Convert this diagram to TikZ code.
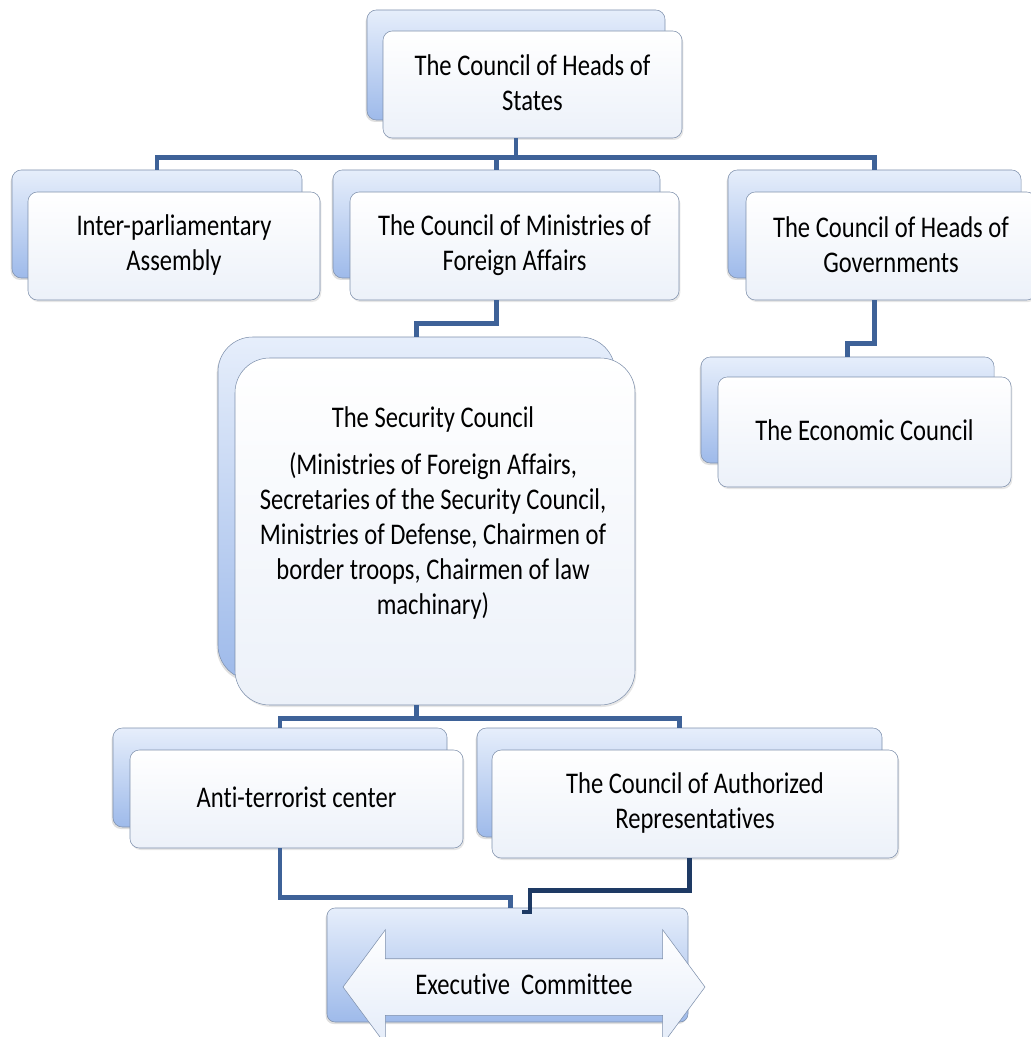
\documentclass[tikz,border=0pt]{standalone}
\usepackage{fontspec}
\setmainfont{Carlito}[FakeStretch=0.82, Ligatures=NoCommon]
\usetikzlibrary{fit,shapes.arrows,shadows}

\definecolor{linkblue}{RGB}{62,98,152}
\definecolor{linkdark}{RGB}{30,58,100}
\definecolor{boxedge}{RGB}{126,144,172}
\definecolor{backtop}{RGB}{230,238,251}
\definecolor{backbot}{RGB}{158,186,234}
\definecolor{frontbot}{RGB}{236,241,249}
\definecolor{arrowfill}{RGB}{228,236,249}

\tikzset{
  backbox/.style={rounded corners=7pt, draw=boxedge, top color=backtop, bottom color=backbot,
    inner sep=0pt, drop shadow={shadow xshift=-1pt, shadow yshift=-1.5pt, opacity=0.25}},
  frontbox/.style={rounded corners=7pt, draw=boxedge, top color=white, bottom color=frontbot,
    inner sep=0pt, drop shadow={shadow xshift=1pt, shadow yshift=-1.5pt, opacity=0.2}},
  boxtext/.style={align=center, yshift=1pt, font=\fontsize{22.5}{26.25}\selectfont},
  exarrow/.style={double arrow, draw=boxedge, top color=white, bottom color=arrowfill,
    double arrow head extend=21.75pt, double arrow tip angle=107, minimum height=271.5pt,
    inner xsep=0pt, inner ysep=10.5pt, text height=16pt, text depth=5pt,
    font=\fontsize{22.5}{26.25}\selectfont},
  link/.style={draw=linkblue, line width=3.5pt},
}

\begin{document}
\begin{tikzpicture}[x=0.75pt,y=-0.75pt]
\useasboundingbox (0,0) rectangle (1030,1037);

% top level
\node[backbox, fit={(367,10) (665,120)}] (heads-b) {};
\node[frontbox, fit={(383,31) (682,138)}] (heads) {};
\node[boxtext] (heads-t) at (heads) {The Council of Heads of\\States};

% second row
\node[backbox, fit={(12,170) (302,278)}] (ipa-b) {};
\node[frontbox, fit={(28,192) (320,300)}] (ipa) {};
\node[boxtext] (ipa-t) at (ipa) {Inter-parliamentary\\Assembly};
\node[backbox, fit={(333,170) (660,278)}] (cmfa-b) {};
\node[frontbox, fit={(350,192) (679,300)}] (cmfa) {};
\node[boxtext] (cmfa-t) at (cmfa) {The Council of Ministries of\\Foreign Affairs};
\node[backbox, fit={(728,170) (1021,278)}] (chg-b) {};
\node[frontbox, fit={(746,192) (1036,300)}] (chg) {};
\node[boxtext] (chg-t) at (chg) {The Council of Heads of\\Governments};

% security council and economic council
\node[backbox, rounded corners=26pt, fit={(218,337) (615,680)}] (sec-b) {};
\node[frontbox, rounded corners=26pt, fit={(235,358) (635,705)}] (sec) {};
\node[boxtext] (sec-t) at (433,514) {The Security Council\\[9pt]
  (Ministries of Foreign Affairs,\\
  Secretaries of the Security Council,\\
  Ministries of Defense, Chairmen of\\
  border troops, Chairmen of law\\
  machinary)};
\node[backbox, fit={(701,357) (994,463)}] (econ-b) {};
\node[frontbox, fit={(718,377) (1011,487)}] (econ) {};
\node[boxtext] (econ-t) at (econ) {The Economic Council};

% lower row
\node[backbox, fit={(113,728) (447,827)}] (atc-b) {};
\node[frontbox, fit={(130,750) (463,848)}] (atc) {};
\node[boxtext] (atc-t) at (atc) {Anti-terrorist center};
\node[backbox, fit={(477,728) (882,837)}] (car-b) {};
\node[frontbox, fit={(492,750) (898,858)}] (car) {};
\node[boxtext] (car-t) at (car) {The Council of Authorized\\Representatives};

% executive committee
\node[backbox, rounded corners=6pt, fit={(327,908) (688,1022)}] (exec-b) {};
\node[exarrow] (exec) at (524,987) {Executive~ Committee};

% connectors
\foreach \n in {ipa,cmfa,chg}
  \draw[link] (heads-b.south |- heads.south) -- ++(0,19) -| (\n-b.north);
\draw[link] (cmfa-b.south |- cmfa.south) -- ++(0,23) -| (sec-b.north);
\draw[link] (chg-b.south |- chg.south) -- ++(0,43) -| (econ-b.north);
\foreach \n in {atc,car}
  \draw[link] (sec-b.south |- sec.south) -- ++(0,13) -| (\n-b.north);
\draw[link] (atc-b.south |- atc.south) -- ++(0,49) -| ([xshift=2pt]exec-b.north);
\coordinate (exec-in) at (530,912);
\draw[link, draw=linkdark] ([xshift=-4pt]car.south) -- ++(0,32) -| (exec-in) -- ++(-8,0);
\end{tikzpicture}
\end{document}
